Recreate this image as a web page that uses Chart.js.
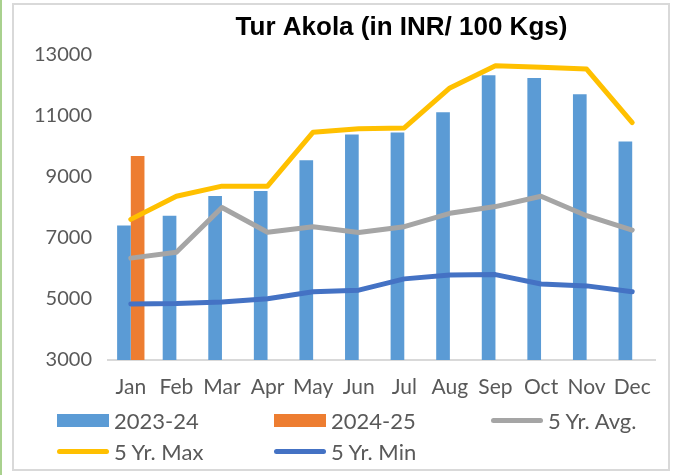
<!DOCTYPE html>
<html>
<head>
<meta charset="utf-8">
<title>Tur Akola</title>
<script src="https://cdn.jsdelivr.net/npm/chart.js@4/dist/chart.umd.min.js"></script>
<style>
  html, body { margin: 0; padding: 0; background: #fff; }
  #wrap { position: relative; width: 678px; height: 475px; overflow: hidden; }
  #edge { position: absolute; left: 0; top: 0; width: 2px; height: 475px; background: #A9D18E; }
  #frame { position: absolute; left: 12px; top: 3px; width: 654px; height: 464px; border: 2px solid #D9D9D9; }
  canvas { position: absolute; left: 0; top: 0; }
  #legend {
    position: absolute; left: 57px; top: 405px;
    display: grid; grid-template-columns: 217px 217px 190px;
    font: 22px Lato, sans-serif; color: #595959;
  }
  .item { display: flex; align-items: center; height: 31px; white-space: nowrap; }
  .swatch { width: 52px; margin-right: 5px; flex: none; }
  .swatch.bar { height: 13px; }
  .swatch.line { height: 5px; border-radius: 3px; }
</style>
</head>
<body>
<div id="wrap">
  <div id="edge"></div>
  <div id="frame"></div>
  <canvas id="chart" width="678" height="475"></canvas>
  <div id="legend"></div>
</div>
<script>
const titleText = 'Tur Akola (in INR/ 100 Kgs)';
const months = ['Jan', 'Feb', 'Mar', 'Apr', 'May', 'Jun', 'Jul', 'Aug', 'Sep', 'Oct', 'Nov', 'Dec'];
const yTicks = [3000, 5000, 7000, 9000, 11000, 13000];

// monthly prices
const price2023 = [7410, 7730, 8380, 8540, 9550, 10390, 10460, 11120, 12340, 12250, 11710, 10160];
const price2024 = [9690, null, null, null, null, null, null, null, null, null, null, null];
const avg5 = [6340, 6530, 8000, 7190, 7370, 7180, 7370, 7810, 8030, 8370, 7730, 7260];
const max5 = [7610, 8370, 8700, 8700, 10470, 10580, 10610, 11920, 12650, 12600, 12540, 10780];
const min5 = [4840, 4850, 4900, 5010, 5240, 5290, 5660, 5790, 5800, 5490, 5430, 5240];

const labelColor = '#595959';

const lineSet = (label, data, color) => ({
  type: 'line',
  label: label,
  data: data,
  borderColor: color,
  backgroundColor: color,
  borderWidth: 5,
  borderCapStyle: 'round',
  borderJoinStyle: 'round',
  pointRadius: 0,
  tension: 0,
  order: 1,
});

const datasets = [
  { type: 'bar', label: '2023-24', data: price2023, backgroundColor: '#5B9BD5', order: 2 },
  { type: 'bar', label: '2024-25', data: price2024, backgroundColor: '#ED7D31', order: 2 },
  lineSet('5 Yr. Avg.', avg5, '#A5A5A5'),
  lineSet('5 Yr. Max', max5, '#FFC000'),
  lineSet('5 Yr. Min', min5, '#4472C4'),
];

const titlePlugin = {
  id: 'titleText',
  afterDraw(chart) {
    const { ctx, chartArea } = chart;
    ctx.save();
    ctx.font = 'bold 26px "Liberation Sans", Arial, sans-serif';
    ctx.fillStyle = '#000';
    ctx.textAlign = 'center';
    ctx.textBaseline = 'alphabetic';
    ctx.fillText(titleText, (chartArea.left + chartArea.right) / 2 + 20, 35);
    ctx.restore();
  },
};

const chart = new Chart(document.getElementById('chart'), {
  data: { labels: months, datasets: datasets },
  plugins: [titlePlugin],
  options: {
    responsive: false,
    animation: false,
    datasets: {
      bar: { categoryPercentage: 0.6, barPercentage: 1.0 },
    },
    layout: { padding: { left: 13, right: 23, top: 55, bottom: 75 } },
    plugins: {
      legend: { display: false },
      title: { display: false },
      tooltip: { enabled: false },
    },
    scales: {
      x: {
        grid: { display: false },
        border: { color: '#D9D9D9', width: 2 },
        ticks: { font: { family: 'Lato, sans-serif', size: 21 }, color: labelColor, padding: 7, maxRotation: 0, autoSkip: false },
        afterFit(scale) { scale.height = 40; },
      },
      y: {
        min: 3000,
        max: 13000,
        grid: { display: false },
        border: { display: false },
        ticks: { font: { family: 'Lato, sans-serif', size: 20 }, color: labelColor, padding: 8, callback: (v) => String(v) },
        afterBuildTicks(scale) { scale.ticks = yTicks.map((v) => ({ value: v })); },
        afterFit(scale) { scale.width = 95; },
      },
    },
  },
});

// legend laid out in columns like the original
const legend = document.getElementById('legend');
datasets.forEach((ds) => {
  const item = document.createElement('div');
  item.className = 'item';
  const sw = document.createElement('span');
  sw.className = 'swatch ' + (ds.type === 'bar' ? 'bar' : 'line');
  sw.style.background = ds.backgroundColor;
  const txt = document.createElement('span');
  txt.textContent = ds.label;
  item.appendChild(sw);
  item.appendChild(txt);
  legend.appendChild(item);
});
</script>
</body>
</html>
